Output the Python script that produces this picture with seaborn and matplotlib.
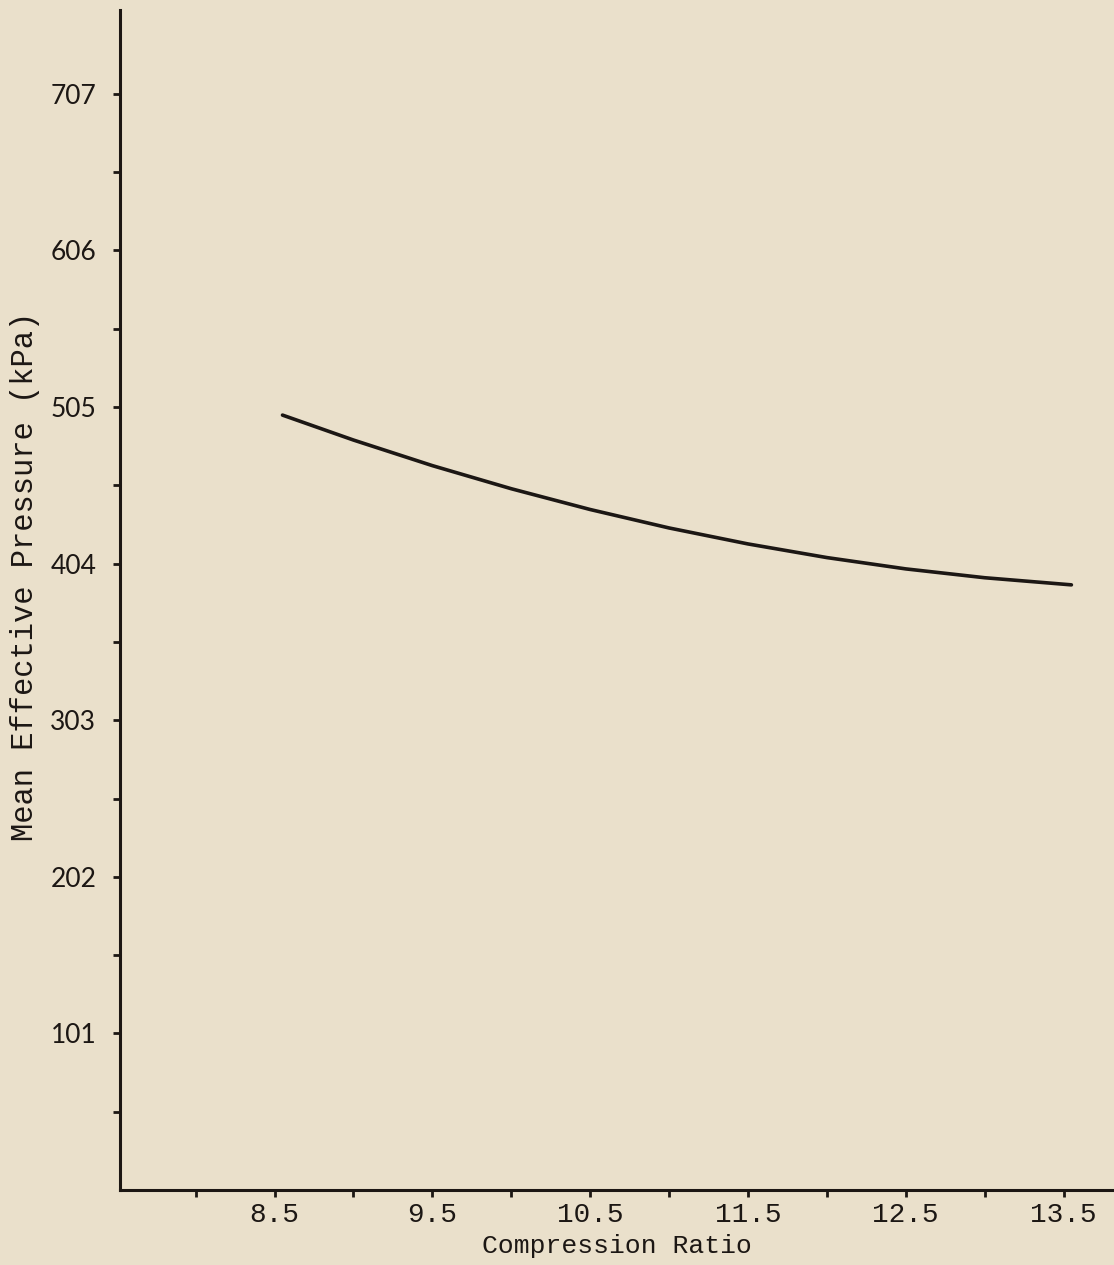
import matplotlib
matplotlib.use("Agg")
import matplotlib.pyplot as plt
import seaborn as sns
import pandas as pd
import numpy as np

compression_ratio = [8.55, 9.0, 9.5, 10.0, 10.5, 11.0, 11.5, 12.0, 12.5, 13.0, 13.55]
mep_kpa = [499.8, 483.7, 467.2, 452.3, 438.9, 427.0, 416.7, 407.9, 400.6, 394.9, 390.3]

y_major = [101, 202, 303, 404, 505, 606, 707]
x_labels = ["8.5", "9.5", "10.5", "11.5", "12.5", "13.5"]

bg = "#eae0cb"
ink = "#1c1714"

sns.set_theme(style="ticks")
plt.rcParams["font.family"] = ["Liberation Mono", "DejaVu Sans Mono"]

fig = plt.figure(figsize=(11.14, 12.65), dpi=100, facecolor=bg)
ax = fig.add_axes([0.1077, 0.0593, 0.8923, 0.9327], facecolor=bg)

df = pd.DataFrame({"Compression Ratio": compression_ratio, "MEP": mep_kpa})
sns.lineplot(data=df, x="Compression Ratio", y="MEP", ax=ax, color=ink, linewidth=2.6)

ax.set_xlim(7.52, 13.82)
ax.set_ylim(0, 761)

xt = np.arange(8.0, 13.51, 0.5)
ax.set_xticks(xt)
lab_map = {float(s): s for s in x_labels}
ax.set_xticklabels([lab_map.get(round(v, 1), "") for v in xt], fontsize=20, color=ink)

yt = [v / 2 for v in range(101, 1415, 101)]
ax.set_yticks(yt)
ax.set_yticklabels([str(int(v)) if int(v) in y_major and v == int(v) else "" for v in yt],
                   fontsize=19, color=ink, family=["Lato", "DejaVu Sans"])

ax.tick_params(axis="x", direction="out", length=5, width=2, colors=ink, pad=4)
ax.tick_params(axis="y", direction="out", length=5, width=2, colors=ink, pad=12)

for s in ["top", "right"]:
    ax.spines[s].set_visible(False)
for s in ["left", "bottom"]:
    ax.spines[s].set_color(ink)
    ax.spines[s].set_linewidth(2.2)

ax.set_xlabel("Compression Ratio", fontsize=19, color=ink, labelpad=4)
ax.set_ylabel("Mean Effective Pressure (kPa)", fontsize=22, color=ink)
ax.yaxis.set_label_coords(-0.08, 0.52)

fig.savefig("out.png", dpi=100, facecolor=bg)
